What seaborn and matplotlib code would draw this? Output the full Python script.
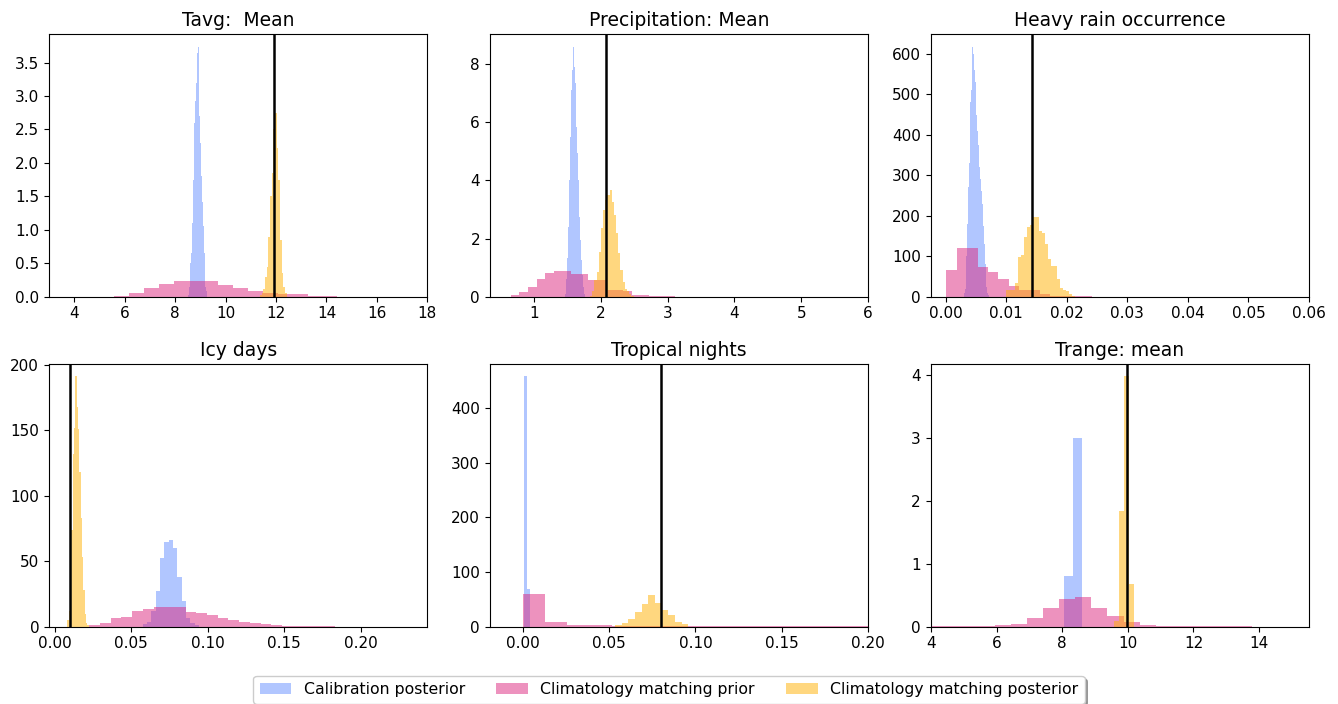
import numpy as np
import pandas as pd
import matplotlib
matplotlib.use("Agg")
import matplotlib.pyplot as plt
from matplotlib.patches import Patch
import seaborn as sns

# ---------------- data (density histograms) ----------------
TITLES = ["Tavg:  Mean", "Precipitation: Mean", "Heavy rain occurrence",
          "Icy days", "Tropical nights", "Trange: mean"]
LABELS = ["Calibration posterior", "Climatology matching prior",
          "Climatology matching posterior"]
OBS = [11.93, 2.08, 0.01433, 0.0101, 0.0801, 9.99]

# (first bin edge, bin width) and densities, per panel and series
tavg_cal_bins = (8.52, 0.034)
tavg_cal = [0.03, 0.15, 0.5, 0.65, 1.1, 1.25, 1.75, 2.6, 2.92, 3.19, 3.64,
            3.74, 3.57, 2.7, 2.3, 1.8, 1.42, 1.05, 0.65, 0.35, 0.15, 0.08]
tavg_prior_bins = (5.58, 0.59)
tavg_prior = [0.015, 0.06, 0.125, 0.195, 0.24, 0.235, 0.24, 0.17, 0.125,
              0.09, 0.05, 0.04, 0.035, 0.015, 0.015]
tavg_post_bins = (11.37, 0.066)
tavg_post = [0.02, 0.05, 0.12, 0.3, 0.45, 0.9, 1.5, 1.85, 2.51, 2.74, 2.22,
             1.75, 0.85, 0.35, 0.15, 0.05]

prec_cal_bins = (1.4625, 0.015)
prec_cal = [0.1, 0.6, 1.32, 2.4, 4.0, 5.5, 7.1, 7.8, 8.6, 7.9, 7.33, 5.84,
            4.93, 4.0, 2.75, 1.95, 1.26, 0.75, 0.32, 0.1]
prec_prior_bins = (0.655, 0.129)
prec_prior = [0.05, 0.16, 0.34, 0.62, 0.81, 0.88, 0.88, 0.78, 0.78, 0.57,
              0.57, 0.24, 0.24, 0.2, 0.07, 0.07, 0.03, 0.03, 0.03]
prec_post_bins = (1.84, 0.0325)
prec_post = [0.03, 0.18, 0.57, 0.86, 1.55, 2.35, 2.98, 3.32, 3.49, 3.67, 3.27,
             2.81, 2.18, 1.49, 0.92, 0.52, 0.25, 0.2, 0.09, 0.03]

rain_cal_bins = (0.002975, 0.00015)
rain_cal = [8, 20, 45, 100, 180, 270, 330, 480, 510, 618, 600, 560, 530, 480,
            450, 410, 375, 320, 290, 260, 230, 175, 130, 80, 50, 25, 10, 4]
rain_prior_bins = (0.0001, 0.00172)
rain_prior = [66, 120, 120, 74, 62, 45, 26, 16, 16, 6, 3, 2, 2, 1]
rain_post_bins = (0.0099, 0.0005)
rain_post = [16, 16, 16, 33, 99, 103, 148, 172, 177, 197, 198, 163, 157, 130,
             93, 76, 76, 44, 21, 16, 14, 6, 2]

icy_cal_bins = (0.0574, 0.00284)
icy_cal = [2, 3.7, 12, 27, 52.6, 64.6, 66, 59.7, 37.6, 19.8, 6.4, 3, 1]
icy_prior_bins = (0.0225, 0.007)
icy_prior = [1.5, 3, 7, 7.6, 12, 13.5, 15.2, 15.2, 15.2, 11.4, 10.2, 8.9, 7,
             5.1, 3.8, 2.6, 2, 1.2, 0.6, 0.4, 0.3, 0.2, 0.2, 0.1, 0.1, 0.1,
             0.1, 0.05, 0.05, 0.05]
icy_post_bins = (0.0082, 0.00087)
icy_post = [5, 12, 44, 74, 132, 152, 191, 168, 151, 118, 83, 53, 28, 10, 3, 1]

trop_cal_bins = (0.0006, 0.0019)
trop_cal = [458, 69]
trop_prior_bins = (0.0, 0.0129)
trop_prior = [59, 8, 3, 3, 1.5, 1.2, 1.0, 0.8, 0.8, 0.6, 0.6, 0.5, 0.5, 0.4,
              0.4, 0.4]
trop_post_bins = (0.0534, 0.00386)
trop_post = [3, 6, 13.5, 26.8, 41, 58, 44, 30.5, 21, 8.6, 5]

trange_cal_bins = (8.06, 0.274)
trange_cal = [0.8, 2.99]
trange_prior_bins = (3.99, 0.49)
trange_prior = [0.005, 0.005, 0.008, 0.012, 0.03, 0.045, 0.14, 0.30, 0.44,
                0.475, 0.30, 0.175, 0.074, 0.027, 0.01, 0.008, 0.006, 0.005,
                0.004, 0.004, 0.003, 0.003]
trange_post_bins = (9.583, 0.15)
trange_post = [0.09, 1.83, 3.97, 0.68]

XLIMS = [(3, 18), (0.34, 6.0), (-0.0025, 0.06), (-0.0039, 0.2436),
         (-0.019, 0.2), (3.99, 15.52)]
XTICKS = [np.arange(4, 19, 2), np.arange(1, 7, 1), np.arange(0, 0.061, 0.01),
          np.arange(0, 0.201, 0.05), np.arange(0, 0.201, 0.05),
          np.arange(4, 15, 2)]
YTICKS = [np.arange(0, 3.6, 0.5), np.arange(0, 9, 2), np.arange(0, 601, 100),
          np.arange(0, 201, 50), np.arange(0, 401, 100), np.arange(0, 5, 1)]

PANELS = [
    [(tavg_cal_bins, tavg_cal), (tavg_prior_bins, tavg_prior), (tavg_post_bins, tavg_post)],
    [(prec_cal_bins, prec_cal), (prec_prior_bins, prec_prior), (prec_post_bins, prec_post)],
    [(rain_cal_bins, rain_cal), (rain_prior_bins, rain_prior), (rain_post_bins, rain_post)],
    [(icy_cal_bins, icy_cal), (icy_prior_bins, icy_prior), (icy_post_bins, icy_post)],
    [(trop_cal_bins, trop_cal), (trop_prior_bins, trop_prior), (trop_post_bins, trop_post)],
    [(trange_cal_bins, trange_cal), (trange_prior_bins, trange_prior), (trange_post_bins, trange_post)],
]

COLORS = ["#648FFF", "#DC267F", "#FFB000"]

# ---------------- plotting ----------------
plt.rcParams["font.family"] = ["DejaVu Sans"]
fig, axes = plt.subplots(2, 3, figsize=(13.38, 7.04), dpi=100)
fig.subplots_adjust(left=0.0366, right=0.9783, top=0.9517, bottom=0.1098,
                    wspace=0.165, hspace=0.256)

for i, ax in enumerate(axes.flat):
    for ((start, width), dens), col in zip(PANELS[i], COLORS):
        dens = np.asarray(dens, dtype=float)
        edges = start + width * np.arange(len(dens) + 1)
        centers = 0.5 * (edges[:-1] + edges[1:])
        df = pd.DataFrame({"x": centers, "w": dens})
        sns.histplot(data=df, x="x", weights="w", bins=list(edges), stat="count",
                     ax=ax, color=col, alpha=0.5, edgecolor="none", linewidth=0)
    ax.axvline(OBS[i], color="black", lw=1.8)
    ax.set_title(TITLES[i], fontsize=13.5)
    ax.set_xlim(*XLIMS[i])
    ax.set_xticks(XTICKS[i])
    ax.set_yticks(YTICKS[i])
    ax.set_ylabel("")
    ax.set_xlabel("")
    ax.tick_params(labelsize=11)

axes[0, 0].yaxis.set_major_formatter(matplotlib.ticker.FormatStrFormatter("%.1f"))
axes[0, 2].xaxis.set_major_formatter(matplotlib.ticker.FormatStrFormatter("%.2f"))
axes[1, 0].xaxis.set_major_formatter(matplotlib.ticker.FormatStrFormatter("%.2f"))
axes[1, 1].xaxis.set_major_formatter(matplotlib.ticker.FormatStrFormatter("%.2f"))

handles = [Patch(facecolor=c, alpha=0.5, edgecolor="none") for c in COLORS]
fig.legend(handles, LABELS, loc="upper center", bbox_to_anchor=(0.5, 1 - 676 / 704),
           ncol=3, fontsize=11.3, shadow=True, borderaxespad=0)

fig.savefig("out.png", dpi=100)
